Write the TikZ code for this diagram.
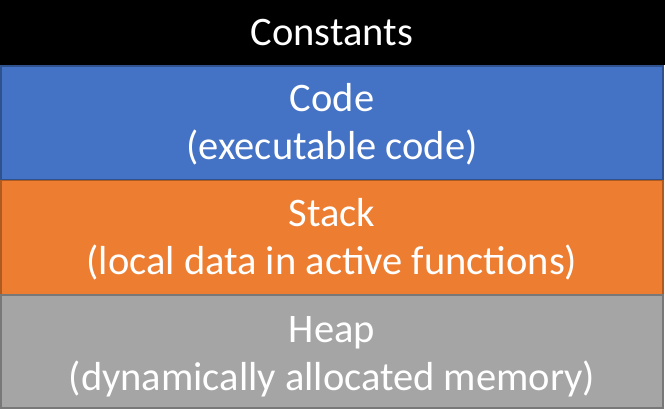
\documentclass[tikz,border=0pt]{standalone}
\usepackage{fontspec}
\setmainfont{Carlito}
\definecolor{cblue}{HTML}{4472C4}
\definecolor{cblueb}{HTML}{2F528F}
\definecolor{corange}{HTML}{ED7D31}
\definecolor{corangeb}{HTML}{AE5A21}
\definecolor{cgray}{HTML}{A5A5A5}
\definecolor{cgrayb}{HTML}{787878}
\begin{document}
\begin{tikzpicture}[x=1pt,y=-1pt,
  band/.style={minimum width=662pt,inner sep=0pt,outer sep=0pt,line width=1.5pt,anchor=north west},
  txt/.style={text=white,inner sep=0pt,anchor=base,font=\fontsize{40.5}{48}\selectfont}]
\useasboundingbox (0,0) rectangle (665,409);
\fill[black] (0,0) rectangle (665,65);
\node[band,minimum height=65pt] (const) at (1,0) {};
\node[band,fill=cblue,draw=cblueb,minimum height=114pt] (code) at (1,66) {};
\node[band,fill=corange,draw=corangeb,minimum height=114pt] (stack) at (1,180.5) {};
\node[band,fill=cgray,draw=cgrayb,minimum height=113pt] (heap) at (1,295) {};
\node[txt] (t0) at (332,46) {Constants};
\node[txt] (t1) at (332,112) {Code};
\node[txt] (t2) at (332,160) {(executable code)};
\node[txt] (t3) at (332,227) {Stack};
\node[txt] (t4) at (332,275) {(local data in active functions)};
\node[txt] (t5) at (332,342) {Heap};
\node[txt] (t6) at (332,390) {(dynamically allocated memory)};
\end{tikzpicture}
\end{document}
